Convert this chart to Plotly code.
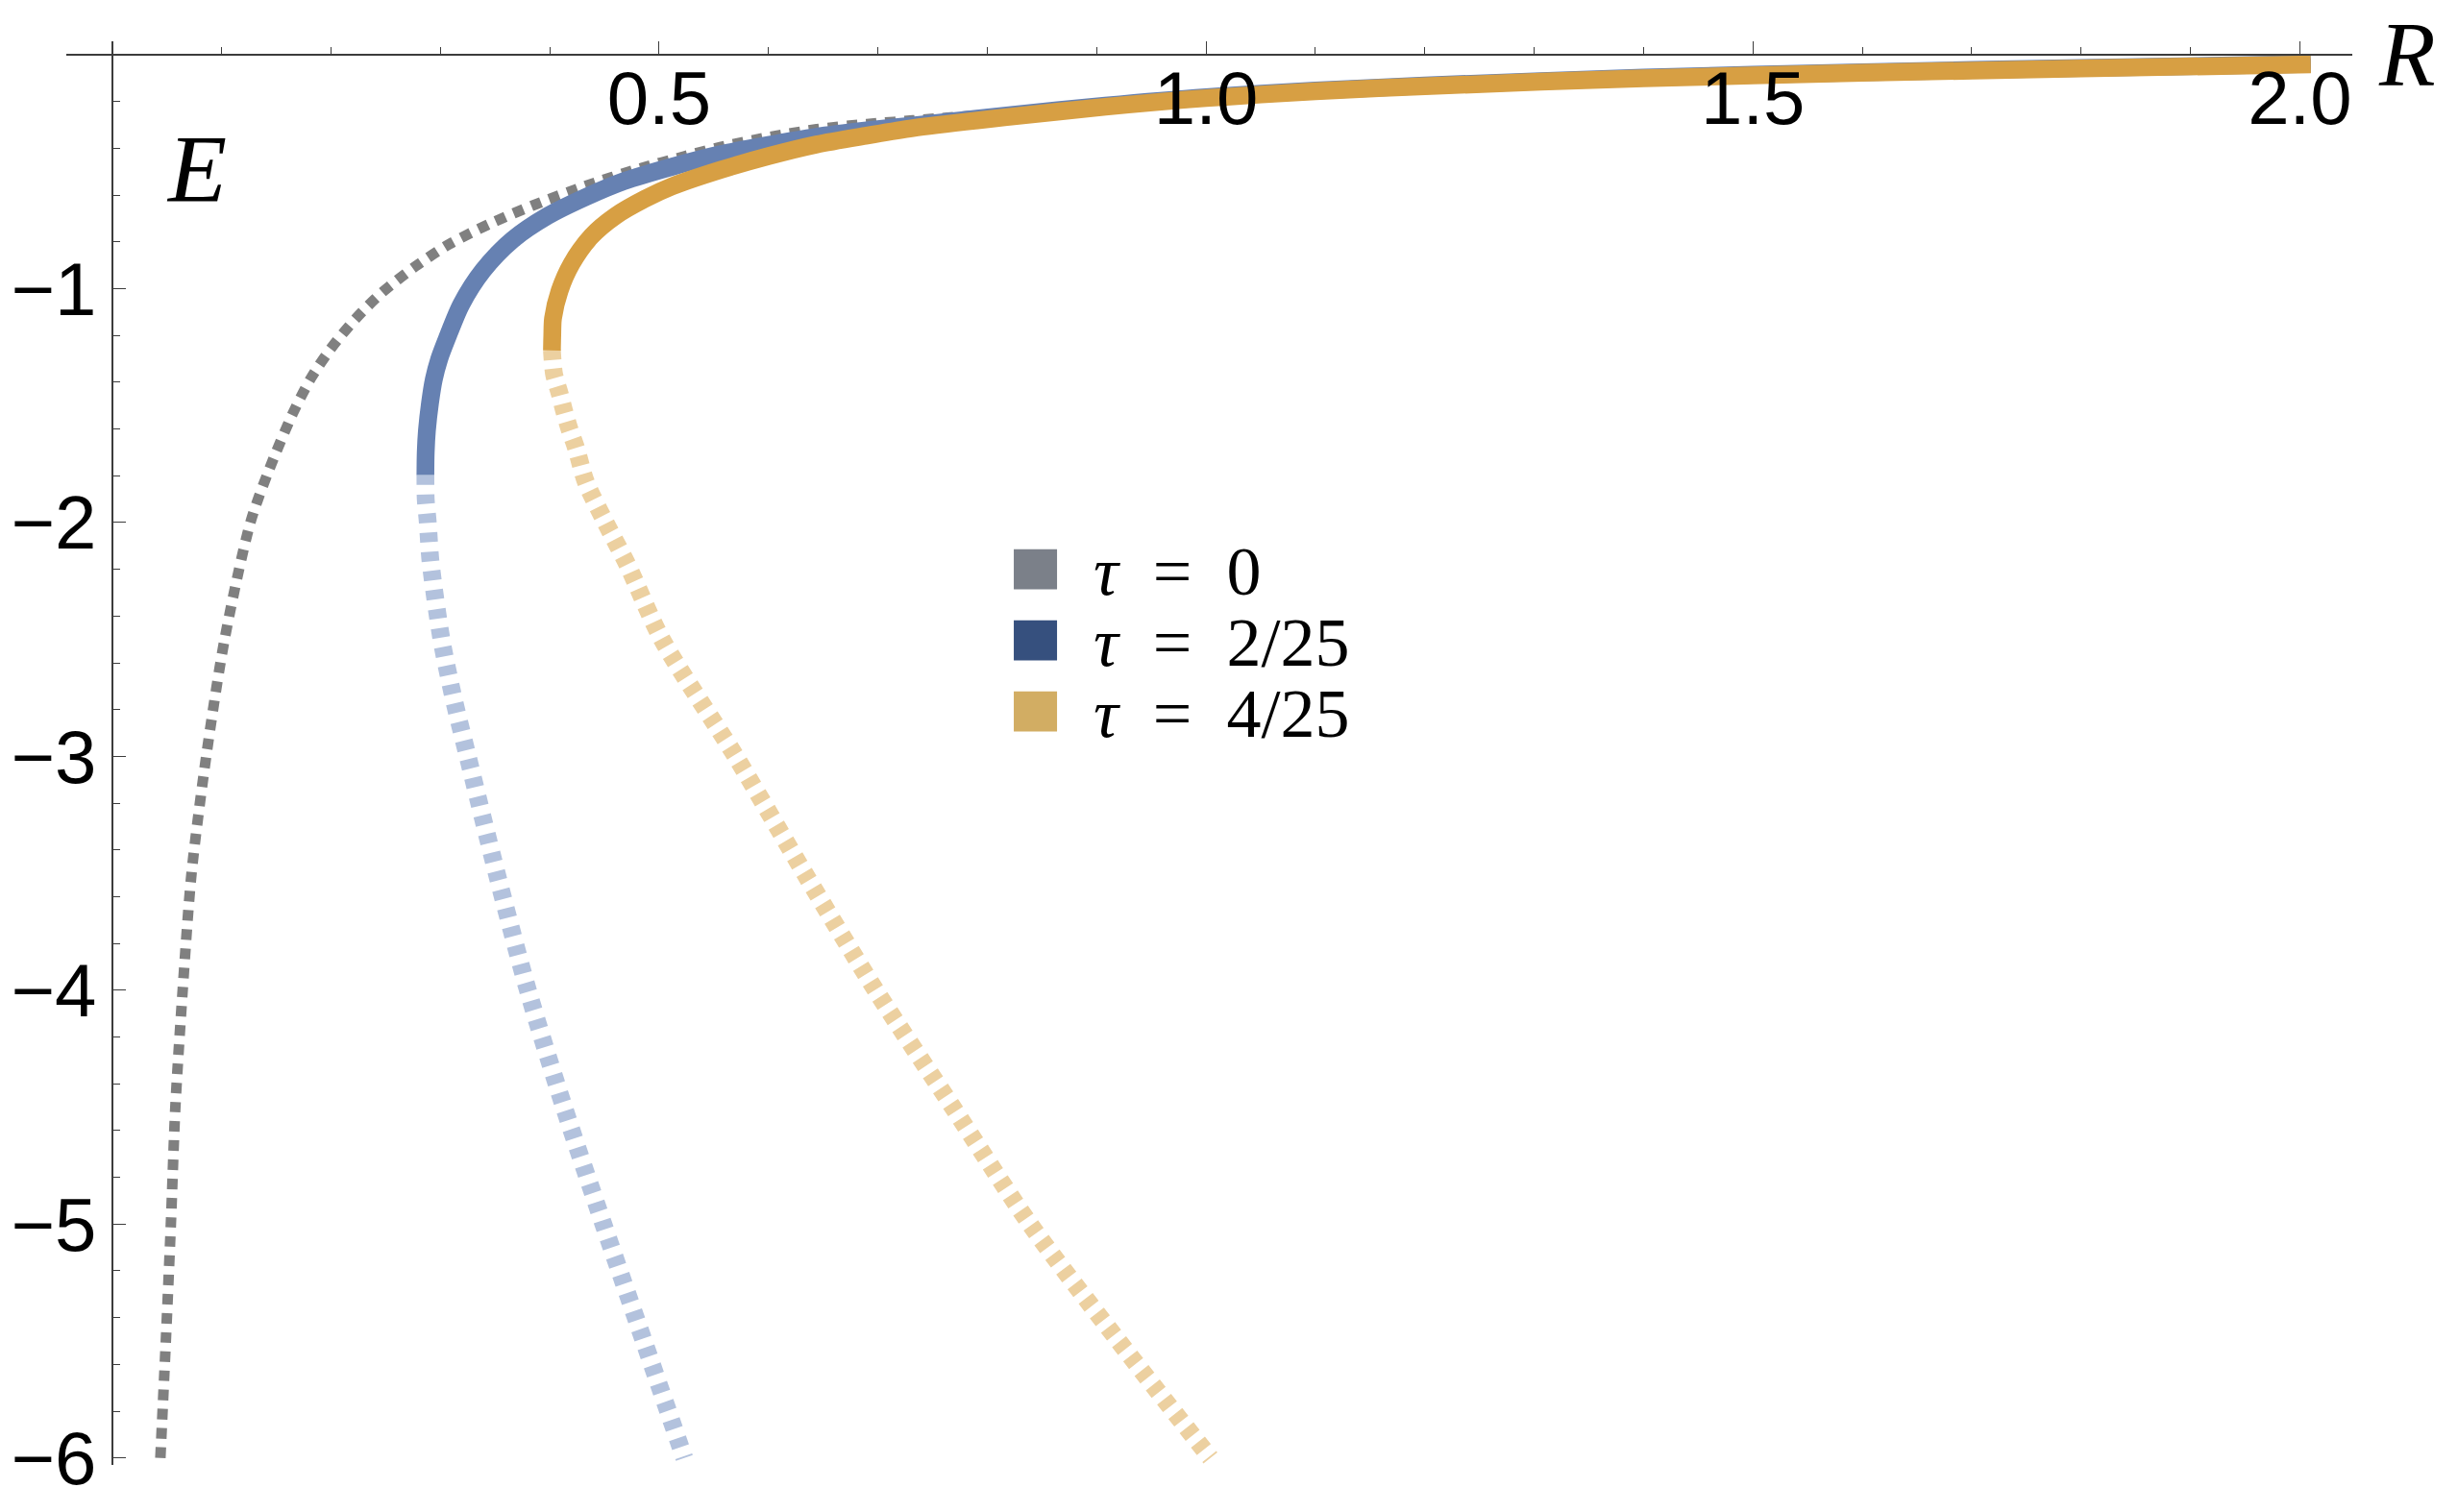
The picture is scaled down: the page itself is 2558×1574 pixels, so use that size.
import plotly.graph_objects as go

# tau = 0 (grey, dotted)
R_TAU0 = [0.044, 0.049, 0.0536, 0.0577, 0.0644, 0.0725, 0.0859, 0.1027, 0.1263, 0.144,
          0.165, 0.182, 0.200, 0.223, 0.247, 0.277, 0.308, 0.344, 0.384, 0.433,
          0.483, 0.523, 0.556, 0.600, 0.644, 0.690, 0.732, 0.820, 0.908, 1.0,
          1.2, 1.4, 1.6, 1.8, 2.01]
E_TAU0 = [-6.0, -5.5, -5.0, -4.5, -4.0, -3.5, -3.0, -2.5, -2.0, -1.767,
          -1.534, -1.380, -1.255, -1.126, -1.015, -0.905, -0.810, -0.725, -0.645, -0.560,
          -0.485, -0.434, -0.394, -0.352, -0.318, -0.296, -0.280, -0.248, -0.211, -0.176,
          -0.128, -0.095, -0.072, -0.054, -0.037]

# tau = 2/25, stable branch (solid) and unstable branch (dashed)
R_TAU2_SOLID = [0.2863, 0.2866, 0.2877, 0.2905, 0.294, 0.299, 0.306, 0.319, 0.339, 0.366,
                0.398, 0.433, 0.468, 0.512, 0.556, 0.600, 0.644, 0.690, 0.732, 0.820,
                0.908, 1.0, 1.1, 1.2, 1.4, 1.6, 1.8, 2.01]
E_TAU2_SOLID = [-1.797, -1.70, -1.607, -1.49, -1.388, -1.30, -1.213, -1.068, -0.922, -0.791,
                -0.689, -0.608, -0.540, -0.478, -0.425, -0.385, -0.350, -0.323, -0.302, -0.258,
                -0.217, -0.181, -0.153, -0.131, -0.097, -0.074, -0.056, -0.039]
R_TAU2_DASH = [0.2863, 0.2866, 0.2885, 0.291, 0.301, 0.312, 0.325, 0.3515, 0.380, 0.413,
               0.449, 0.486, 0.523]
E_TAU2_DASH = [-1.797, -1.90, -2.0, -2.167, -2.5, -2.75, -3.0, -3.5, -4.0, -4.5,
               -5.0, -5.5, -6.0]

# tau = 4/25, stable branch (solid) and unstable branch (dashed)
R_TAU4_SOLID = [0.402, 0.4023, 0.403, 0.409, 0.420, 0.438, 0.460, 0.487, 0.512, 0.556,
                0.600, 0.644, 0.690, 0.732, 0.820, 0.908, 1.0, 1.1, 1.2, 1.4,
                1.6, 1.8, 2.01]
E_TAU4_SOLID = [-1.264, -1.20, -1.126, -1.009, -0.893, -0.776, -0.689, -0.616, -0.562, -0.492,
                -0.433, -0.383, -0.345, -0.313, -0.265, -0.222, -0.185, -0.156, -0.134, -0.100,
                -0.077, -0.058, -0.041]
R_TAU4_DASH = [0.402, 0.4025, 0.404, 0.409, 0.413, 0.418, 0.424, 0.433, 0.451, 0.471,
               0.5026, 0.570, 0.633, 0.698, 0.7685, 0.839, 0.920, 1.004]
E_TAU4_DASH = [-1.264, -1.30, -1.367, -1.447, -1.52, -1.60, -1.68, -1.826, -2.0, -2.18,
               -2.5, -3.0, -3.5, -4.0, -4.5, -5.0, -5.5, -6.0]

X_TICKS = [0.5, 1.0, 1.5, 2.0]
X_TICK_TEXT = ["0.5", "1.0", "1.5", "2.0"]
Y_TICKS = [-1, -2, -3, -4, -5, -6]

LEGEND_VALUES = ["0", "2/25", "4/25"]
LEGEND_COLORS = ["#7b8089", "#36507e", "#d2ad63"]

W, H = 2558, 1574
X_RANGE = [-0.042, 2.048]
Y_RANGE = [-6.03, 0.058]
X0_PX, PX_PER_R = 117, 1138     # pixel of R=0 and pixels per unit
Y0_PX, PX_PER_E = 57, 245       # pixel of E=0 and pixels per unit

left = X0_PX + X_RANGE[0] * PX_PER_R
right = X0_PX + X_RANGE[1] * PX_PER_R
top = Y0_PX - Y_RANGE[1] * PX_PER_E
bottom = Y0_PX - Y_RANGE[0] * PX_PER_E


def paper(px, py):
    return (px - left) / (right - left), (bottom - py) / (bottom - top)


AXIS_COLOR = "#3c3c3c"
GREY = "#808080"
BLUE = "#6681b2"
BLUE_LIGHT = "#b3c2dd"
GOLD = "#d79f43"
GOLD_LIGHT = "#ecd0a0"

fig = go.Figure()

fig.add_trace(go.Scatter(
    x=R_TAU0, y=E_TAU0, mode="lines",
    line=dict(color=GREY, width=11, dash="11px,9px", shape="spline", smoothing=0.8),
))
fig.add_trace(go.Scatter(
    x=R_TAU2_DASH, y=E_TAU2_DASH, mode="lines",
    line=dict(color=BLUE_LIGHT, width=18.5, dash="10px,10px", shape="spline", smoothing=0.8),
))
fig.add_trace(go.Scatter(
    x=R_TAU4_DASH, y=E_TAU4_DASH, mode="lines",
    line=dict(color=GOLD_LIGHT, width=18.5, dash="10px,9px", shape="spline", smoothing=0.8),
))
fig.add_trace(go.Scatter(
    x=R_TAU2_SOLID, y=E_TAU2_SOLID, mode="lines",
    line=dict(color=BLUE, width=18.5, shape="spline", smoothing=0.8),
))
fig.add_trace(go.Scatter(
    x=R_TAU4_SOLID, y=E_TAU4_SOLID, mode="lines",
    line=dict(color=GOLD, width=18.5, shape="spline", smoothing=0.8),
))

serif = "Liberation Serif"

# axis labels
ex, ey = paper(205, 176)
rx, ry = paper(2505, 1)
annotations = [
    dict(x=ex, y=ey, xref="paper", yref="paper", text="<i>E</i>", showarrow=False,
         font=dict(family=serif, size=100, color="black"),
         xanchor="center", yanchor="middle"),
    dict(x=rx, y=ry, xref="paper", yref="paper", text="<i>R</i>", showarrow=False,
         font=dict(family=serif, size=96, color="black"),
         xanchor="center", yanchor="top"),
]

# legend: coloured squares with labels
shapes = []
row_y = [596, 670.5, 745]
for value, color, cy in zip(LEGEND_VALUES, LEGEND_COLORS, row_y):
    x0, y0 = paper(1055, cy + 21)
    x1, y1 = paper(1100, cy - 21)
    shapes.append(dict(type="rect", xref="paper", yref="paper", x0=x0, y0=y0, x1=x1, y1=y1,
                       fillcolor=color, line=dict(width=0)))
    tx, ty = paper(1136, cy + 2)
    label = f"<i>τ</i>\u2002=\u2002{value}"
    annotations.append(dict(x=tx, y=ty, xref="paper", yref="paper", text=label,
                            showarrow=False, xanchor="left", yanchor="middle",
                            font=dict(family=serif, size=72, color="black")))

tick_font = dict(family="Liberation Sans", size=78, color="black")

fig.update_layout(
    width=W, height=H, autosize=False,
    paper_bgcolor="white", plot_bgcolor="white",
    showlegend=False,
    margin=dict(l=left, r=W - right, t=top, b=H - bottom, pad=0),
    xaxis=dict(
        range=X_RANGE, showgrid=False, zeroline=False,
        showline=True, linecolor=AXIS_COLOR, linewidth=1.5,
        anchor="free", position=(0 - Y_RANGE[0]) / (Y_RANGE[1] - Y_RANGE[0]),
        tickmode="array", tickvals=X_TICKS, ticktext=X_TICK_TEXT,
        ticks="inside", ticklen=13, tickwidth=1.3, tickcolor=AXIS_COLOR,
        tickfont=tick_font, ticklabelstandoff=-22,
        minor=dict(ticks="inside", ticklen=7, tickwidth=1.1, tickcolor=AXIS_COLOR,
                   tickmode="linear", tick0=0, dtick=0.1, showgrid=False),
    ),
    yaxis=dict(
        range=Y_RANGE, showgrid=False, zeroline=False,
        showline=True, linecolor=AXIS_COLOR, linewidth=1.5,
        anchor="free", position=(0 - X_RANGE[0]) / (X_RANGE[1] - X_RANGE[0]),
        tickmode="array", tickvals=Y_TICKS,
        ticks="inside", ticklen=13, tickwidth=1.3, tickcolor=AXIS_COLOR,
        tickfont=tick_font,
        minor=dict(ticks="inside", ticklen=7, tickwidth=1.1, tickcolor=AXIS_COLOR,
                   tickmode="linear", tick0=0, dtick=0.2, showgrid=False),
    ),
    annotations=annotations,
    shapes=shapes,
)

fig.write_html("out.html", config={"displayModeBar": False},
               post_script="document.body.style.margin='0px';")
